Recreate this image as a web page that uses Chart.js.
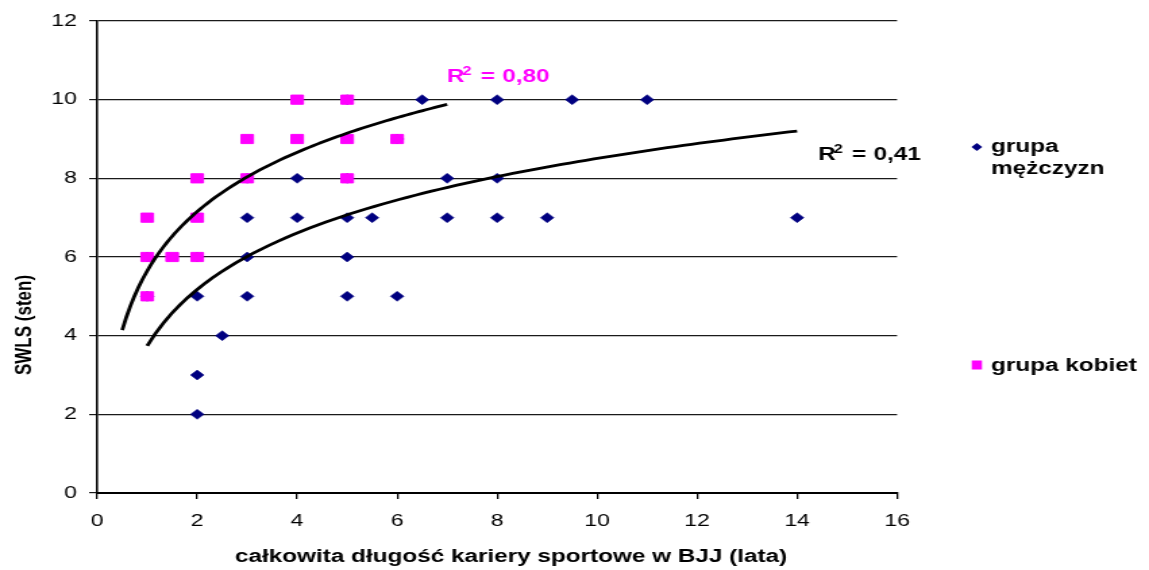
<!DOCTYPE html>
<html><head><meta charset="utf-8">
<script src="https://cdn.jsdelivr.net/npm/chart.js@4"></script>
<style>
html,body{margin:0;padding:0;background:#fff;overflow:hidden;width:1149px;height:570px}
#wrap{position:absolute;left:0;top:0;width:851px;height:570px;transform-origin:0 0;transform:scaleX(1.35018)}
canvas{display:block}
</style></head><body>
<div id="wrap"><canvas id="c" width="851" height="570"></canvas></div>
<script>
// ---- data ----
const menX   = [1,1,2,2,2,2,2.5,3,3,3,3,4,4,5,5,5,5,5,5.5,6,6,6.5,7,7,8,8,8,9,9.5,11,14];
const menY   = [5,6,2,3,5,6,4,5,6,7,8,7,8,5,6,7,8,10,7,5,9,10,7,8,7,8,10,7,10,10,7];
const womenX = [1,1,1,1.5,2,2,2,3,3,4,4,5,5,5,6];
const womenY = [7,6,5,6,8,7,6,9,8,10,9,10,9,8,9];
const seriesNames = ['grupa mężczyzn', 'grupa kobiet'];
// logarithmic trendlines y = a*ln(x) + b
const trendMen = [2.07, 3.74];     const trendMenRange = [1, 14];     const r2Men = '0,41';
const trendWomen = [2.175, 5.647]; const trendWomenRange = [0.5, 7];  const r2Women = '0,80';
const xTickValues = [0,2,4,6,8,10,12,14,16];
const yTickValues = [0,2,4,6,8,10,12];
const xTitle = 'całkowita długość kariery sportowe w BJJ (lata)';
const yTitle = 'SWLS (sten)';

const NAVY = '#000080', PINK = '#FF00FF';
const FONT = '"Liberation Sans", Arial, sans-serif';

function pts(xs, ys){ return xs.map((x,i)=>({x:x, y:ys[i]})); }
function trend(c, range){
  const out = []; const n = 80;
  for (let i=0;i<=n;i++){ const x = range[0] + (range[1]-range[0])*i/n; out.push({x:x, y:c[0]*Math.log(x)+c[1]}); }
  return out;
}

const textPlugin = {
  id: 'texts',
  afterDraw(chart){
    const ctx = chart.ctx;
    ctx.save();
    ctx.fillStyle = '#000';
    // x title
    ctx.font = 'bold 18px ' + FONT;
    ctx.textAlign = 'center'; ctx.textBaseline = 'alphabetic';
    ctx.fillText(xTitle, 378.5, 562);
    // y title
    ctx.save();
    ctx.translate(18, 325); ctx.rotate(-Math.PI/2);
    ctx.font = 'bold 17px ' + FONT; ctx.textBaseline = 'middle';
    ctx.fillText(yTitle, 0, 0);
    ctx.restore();
    // R2 labels
    function r2(x, y, val, color){
      ctx.fillStyle = color; ctx.textAlign = 'left'; ctx.textBaseline = 'alphabetic';
      ctx.font = 'bold 18px ' + FONT;
      ctx.fillText('R', x, y);
      ctx.font = 'bold 12px ' + FONT;
      ctx.fillText('2', x + 11.5, y - 7);
      ctx.font = 'bold 18px ' + FONT;
      ctx.fillText('=', x + 25, y);
      ctx.fillText(val, x + 41, y);
    }
    r2(331, 82, r2Women, PINK);
    r2(606, 160, r2Men, '#000');
    // legend
    ctx.fillStyle = NAVY;
    const dx = 723.5, dy = 147, r = 4;
    ctx.beginPath(); ctx.moveTo(dx-r,dy); ctx.lineTo(dx,dy-r); ctx.lineTo(dx+r,dy); ctx.lineTo(dx,dy+r); ctx.closePath(); ctx.fill();
    ctx.fillStyle = PINK;
    ctx.fillRect(723.5-3.8, 365-4.5, 7.6, 9);
    ctx.fillStyle = '#000';
    ctx.font = 'bold 18px ' + FONT; ctx.textAlign = 'left';
    const parts = seriesNames[0].split(' ');
    ctx.fillText(parts[0], 734, 152);
    ctx.fillText(parts[1], 734, 174);
    ctx.fillText(seriesNames[1], 734, 371);
    ctx.restore();
  }
};

new Chart(document.getElementById('c'), {
  type: 'scatter',
  data: {
    datasets: [
      { type:'line', label:'trend kobiet', data: trend(trendWomen, trendWomenRange), borderColor:'#000', borderWidth:2.8, pointRadius:0, fill:false, tension:0, order:0 },
      { type:'line', label:'trend mężczyzn', data: trend(trendMen, trendMenRange), borderColor:'#000', borderWidth:2.8, pointRadius:0, fill:false, tension:0, order:0 },
      { label: seriesNames[1], data: pts(womenX, womenY), pointStyle:'rect', pointRadius:6.5, backgroundColor:PINK, borderColor:PINK, borderWidth:1, order:1 },
      { label: seriesNames[0], data: pts(menX, menY), pointStyle:'rectRot', pointRadius:5, backgroundColor:NAVY, borderColor:NAVY, borderWidth:0.5, order:2 }
    ]
  },
  options: {
    responsive:false, animation:false, devicePixelRatio:1,
    layout:{ padding:{ top:21, right:186.6, left:0, bottom:0 } },
    plugins:{ legend:{display:false}, tooltip:{enabled:false} },
    scales:{
      x:{ type:'linear', min:0, max:16,
          afterBuildTicks(s){ s.ticks = xTickValues.map(v=>({value:v})); },
          afterFit(s){ s.height = 77; },
          ticks:{ font:{family:FONT, size:17}, color:'#000', padding:12, maxRotation:0 },
          grid:{ drawOnChartArea:false, tickLength:6, color:'#000', lineWidth:1.3 },
          border:{ display:true, color:'#000', width:2 } },
      y:{ type:'linear', min:0, max:12,
          afterBuildTicks(s){ s.ticks = yTickValues.map(v=>({value:v})); },
          afterFit(s){ s.width = 72; },
          ticks:{ font:{family:FONT, size:17}, color:'#000', padding:9 },
          grid:{ tickLength:6, color:'#1a1a1a', lineWidth:1.2 },
          border:{ display:true, color:'#000', width:1.6 } }
    }
  },
  plugins:[textPlugin]
});
</script>
</body></html>
